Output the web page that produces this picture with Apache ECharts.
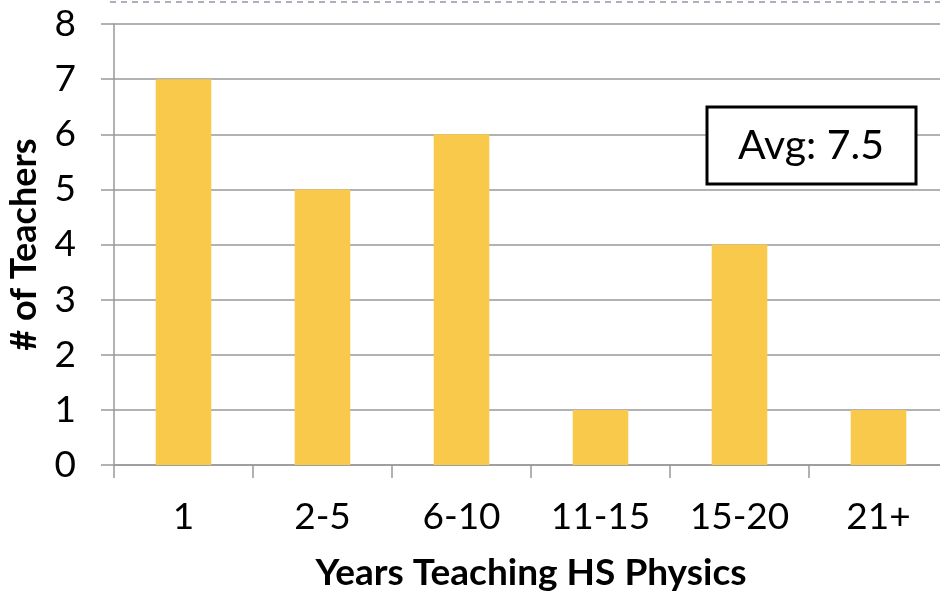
<!DOCTYPE html>
<html><head><meta charset="utf-8">
<script src="https://cdn.jsdelivr.net/npm/echarts@6/dist/echarts.min.js"></script>
<style>html,body{margin:0;padding:0;background:#fff}#c{width:940px;height:592px}</style>
</head><body><div id="c"></div>
<script>
const categories = ['1', '2-5', '6-10', '11-15', '15-20', '21+'];
const teachers = [7, 5, 6, 1, 4, 1];
const yTicks = [0, 1, 2, 3, 4, 5, 6, 7, 8];
const avgText = 'Avg: 7.5';
const xTitle = 'Years Teaching HS Physics';
const yTitle = '# of Teachers';

const chart = echarts.init(document.getElementById('c'), null, {renderer: 'canvas'});
const font = 'Lato, "Open Sans", sans-serif';
chart.setOption({
  animation: false,
  grid: {left: 114, right: -8, top: 24, bottom: 127, containLabel: false, outerBoundsMode: 'none'},
  xAxis: {
    type: 'category', data: categories,
    axisLine: {lineStyle: {color: '#999', width: 1.5}},
    axisTick: {show: true, length: 13, lineStyle: {color: '#999', width: 1.5}},
    axisLabel: {color: '#000', fontSize: 37, fontFamily: font, margin: 34},
    name: xTitle, nameLocation: 'middle', nameGap: 90,
    nameTextStyle: {color: '#000', fontSize: 37, fontWeight: 'bold', fontFamily: font}
  },
  yAxis: {
    type: 'value', min: yTicks[0], max: yTicks[yTicks.length - 1], interval: 1,
    axisLine: {show: true, lineStyle: {color: '#999', width: 1.5}},
    axisTick: {show: true, length: 13, lineStyle: {color: '#999', width: 1.5}},
    splitLine: {lineStyle: {color: '#999', width: 1.5}},
    axisLabel: {color: '#000', fontSize: 37, fontFamily: font, margin: 38},
    name: yTitle, nameLocation: 'middle', nameGap: 72, nameRotate: 90,
    nameTextStyle: {color: '#000', fontSize: 36, fontWeight: 'bold', fontFamily: font}
  },
  series: [{
    type: 'bar', data: teachers, barCategoryGap: '60%',
    itemStyle: {color: '#F8C94A'}
  }],
  graphic: [
    {type: 'line', shape: {x1: 110, y1: 2, x2: 940, y2: 2},
     style: {stroke: '#9893A8', lineWidth: 1.5, lineDash: [6, 5]}},
    {type: 'rect', shape: {x: 707, y: 107, width: 209, height: 77},
     style: {fill: '#fff', stroke: '#000', lineWidth: 3}, z: 10},
    {type: 'text', x: 811, y: 146, z: 11,
     style: {text: avgText, font: '41px ' + font, fill: '#000', textAlign: 'center', textVerticalAlign: 'middle'}}
  ]
});
</script></body></html>
